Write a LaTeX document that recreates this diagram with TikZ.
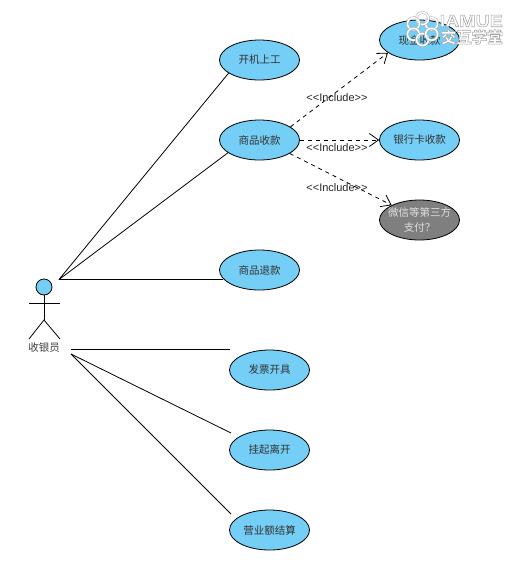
\documentclass[tikz,border=0pt]{standalone}
\usepackage{fontspec}
\setmainfont{Liberation Sans}
\newfontfamily\cjk{Noto Sans CJK SC}
\newfontfamily\wmfont[FakeStretch=1.15]{Liberation Sans}
\usetikzlibrary{arrows.meta,shapes.geometric,calc}
\definecolor{ucblue}{HTML}{75CEF5}
\definecolor{ucgrey}{HTML}{7F7F7F}
\definecolor{wmgrey}{HTML}{A8A8A8}
\newcommand{\outlinetext}[1]{\special{pdf:code q 2 Tr 0.6 w 0.66 0.66 0.66 RG 1 1 1 rg}#1\special{pdf:code Q}}
\tikzset{
  usecase/.style={ellipse,draw=black,line width=0.8pt,fill=ucblue,minimum width=80pt,minimum height=40pt,inner sep=0pt,font=\cjk\fontsize{10.5}{14}\selectfont,text=black!80,align=center},
  greycase/.style={usecase,fill=ucgrey},
  greytext/.style={font=\cjk\fontsize{10.5}{15}\selectfont,text=black!12,align=center,inner sep=0pt},
  assoc/.style={line width=0.8pt,draw=black},
  incl/.style={line width=0.8pt,draw=black,dash pattern=on 4pt off 4pt,-{Straight Barb[length=9pt,width=13pt,line width=0.8pt]}},
  incllabel/.style={font=\fontsize{11}{12}\selectfont,text=black!85,inner sep=0pt},
  limb/.style={line width=0.8pt,draw=black},
  petal/.style={circle,draw=wmgrey,line width=0.5pt,double=white,double distance=1.6pt,minimum size=12pt,inner sep=0pt},
}
\begin{document}
\begin{tikzpicture}[x=1pt,y=-1pt]
\useasboundingbox (0,0) rectangle (514,568);
\fill[white] (0,0) rectangle (514,568);
% use cases
\node[usecase] (u1) at (259.5,60) {开机上工};
\node[usecase] (u2) at (259.5,140) {商品收款};
\node[usecase] (u3) at (259.5,270) {商品退款};
\node[usecase] (u4) at (269.5,370) {发票开具};
\node[usecase] (u5) at (269.5,450) {挂起离开};
\node[usecase] (u6) at (269.5,530) {营业额结算};
\node[usecase] (p1) at (419.5,40) {现金收款};
\node[usecase] (p2) at (419.5,140) {银行卡收款};
\node[greycase] (p3) at (419.5,220) {};
\node[greytext] (p3t) at (p3.center) {微信等第三方\\支付？};
% actor
\node[circle,draw=black,line width=0.8pt,fill=ucblue,minimum size=16pt,inner sep=0pt] (head) at (44,287) {};
\coordinate (hip) at (44,320);
\coordinate (armL) at (29,303.5);
\coordinate (armR) at (60,303.5);
\coordinate (footL) at (29,339);
\coordinate (footR) at (60,339);
\draw[limb] (head.south) -- (hip);
\draw[limb] (armL) -- (armR);
\draw[limb] (footL) -- (hip) -- (footR);
\node[font=\cjk\fontsize{10.5}{12}\selectfont,text=black!75,inner sep=0pt] (actor) at (44,348) {收银员};
% associations
\coordinate (a1) at (59,279.5);
\coordinate (a2) at (71,349.5);
\coordinate (a3) at (71,354);
\coordinate (e4) at (230,349.5);
\coordinate (e5) at (231,433);
\coordinate (e6) at (231,514);
\draw[assoc] (a1) -- (u1.203);
\draw[assoc] (a1) -- (u2.202);
\draw[assoc] (a1) -- (a1 -| u3.194.15);
\draw[assoc] (a2) -- (e4);
\draw[assoc] (a3) -- (e5);
\draw[assoc] (a3) -- (e6);
% includes
\draw[incl] (u2.23.4) -- (p1.202);
\draw[incl] (u2.east) -- (p2.west);
\draw[incl] (u2.336.6) -- (p3.152.6);
\node[incllabel] (l1) at (337,98) {<{}<Include>{}>};
\node[incllabel] (l2) at (337,148) {<{}<Include>{}>};
\node[incllabel] (l3) at (337,188) {<{}<Include>{}>};
% watermark
\foreach \a in {0,60,...,300}{
  \node[petal] (pt\a) at ($(422.5,29)+(\a+30:10.5pt)$) {};
}
\node[inner sep=0pt,font=\wmfont\bfseries\fontsize{17}{18}\selectfont,anchor=east] (wm1) at (503,21) {\outlinetext{IAMUE}};
\node[inner sep=0pt,font=\cjk\bfseries\fontsize{15.5}{17}\selectfont,anchor=east] (wm2) at (503,37) {\outlinetext{交互学堂}};
\end{tikzpicture}
\end{document}
